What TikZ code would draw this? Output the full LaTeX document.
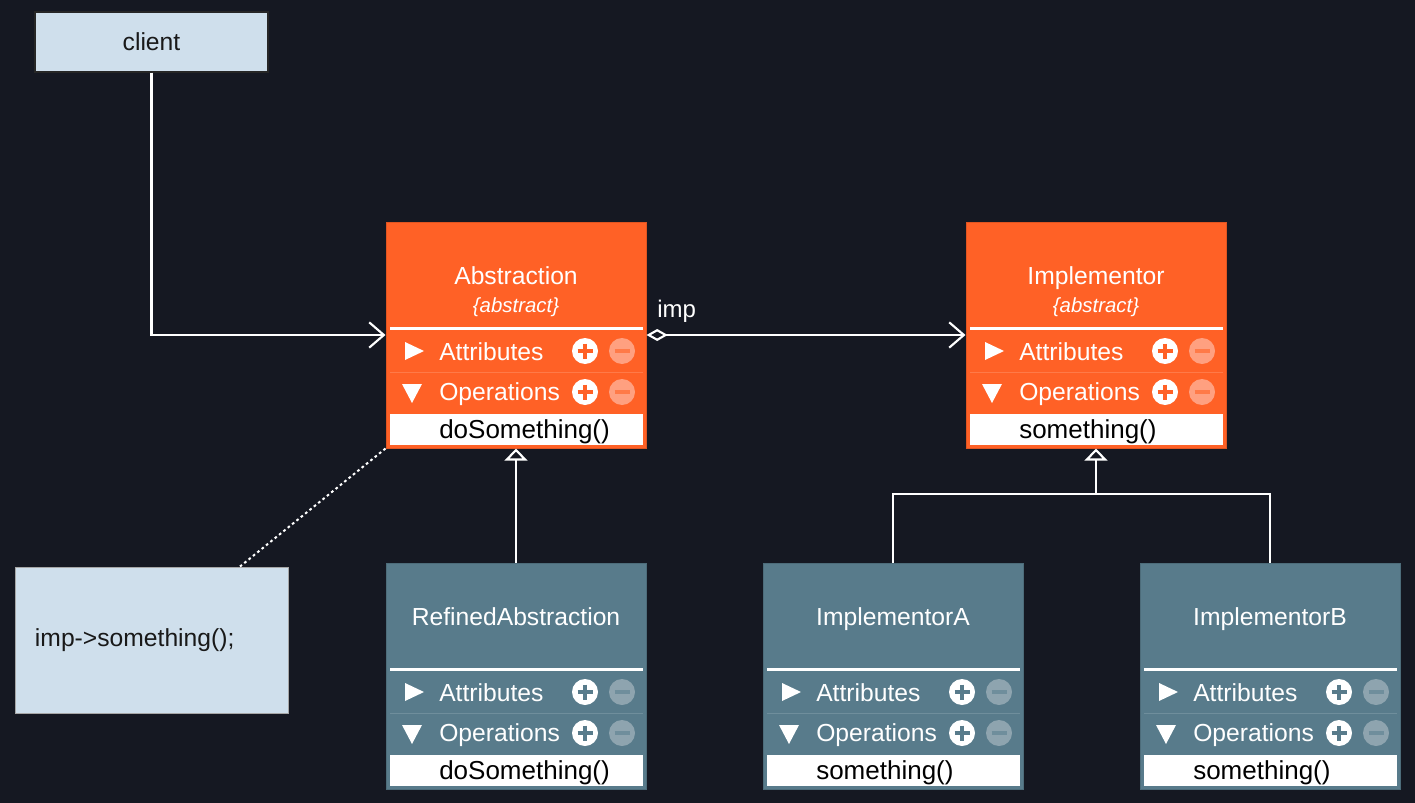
\documentclass[tikz,border=0pt]{standalone}
\usepackage{fontspec}
\setmainfont{Liberation Sans}
\usetikzlibrary{arrows.meta,calc}
\definecolor{bgc}{HTML}{151822}
\definecolor{orng}{HTML}{FF6126}
\definecolor{orngm}{HTML}{FFA080}
\definecolor{orngl}{HTML}{FF7A48}
\definecolor{tealc}{HTML}{587B8B}
\definecolor{tealm}{HTML}{8EA4AF}
\definecolor{teall}{HTML}{6F8E9C}
\definecolor{lblue}{HTML}{CFDFEC}
\tikzset{
  x=0.75pt, y=-0.75pt,
  clsbox/.style={minimum width=195pt, minimum height=169.5pt, inner sep=0pt, line width=0.75pt},
  titletext/.style={anchor=base, inner sep=0pt, text=white, font=\fontsize{18.5pt}{22pt}\selectfont},
  subtext/.style={anchor=base, inner sep=0pt, text=white, font=\fontsize{15.3pt}{18pt}\selectfont\itshape},
  rowtext/.style={anchor=base west, inner sep=0pt, text=white, font=\fontsize{18.5pt}{22pt}\selectfont},
  methtext/.style={anchor=base west, inner sep=0pt, text=black, font=\fontsize{19.5pt}{23pt}\selectfont},
  methbox/.style={fill=white, minimum width=189.75pt, minimum height=23.25pt, inner sep=0pt},
  btn/.style={circle, minimum size=19.5pt, inner sep=0pt},
  lbox/.style={fill=lblue, inner sep=0pt, font=\fontsize{18.5pt}{22pt}\selectfont, text=black!90},
  conn/.style={white, line width=1.6pt},
}
% #1 name #2 x #3 y #4 fill #5 minus fill #6 thin line #7 title #8 subtitle #9 method
\newcommand{\umlcls}[9]{%
  \begin{scope}[shift={(#2,#3)}]
    \node[clsbox, fill=#4, draw=#4!88!black] (#1) at (130,113) {};
    \node[titletext] (#1-t) at (130,62) {#7};
    \node[subtext] (#1-s) at (130,90) {#8};
    \draw[white, line width=2.25pt] (4,106) -- (257,106);
    \draw[#6, line width=0.75pt] (4,150) -- (257,150);
    \fill[white] (19,120) -- (38,129) -- (19,138) -- cycle;
    \fill[white] (16,162) -- (36,162) -- (26,181) -- cycle;
    \node[rowtext] (#1-a) at (53,138) {Attributes};
    \node[rowtext] (#1-o) at (53,178) {Operations};
    \node[btn, fill=white] (#1-ap) at (199,129) {};
    \node[btn, fill=#5] (#1-am) at (236,129) {};
    \node[btn, fill=white] (#1-op) at (199,170) {};
    \node[btn, fill=#5] (#1-om) at (236,170) {};
    \draw[#4, line width=3pt] (191.5,129) -- (206.5,129) (199,121.5) -- (199,136.5)
                               (191.5,170) -- (206.5,170) (199,162.5) -- (199,177.5);
    \draw[#6, line width=3pt] (228.5,129) -- (243.5,129) (228.5,170) -- (243.5,170);
    \node[methbox] (#1-m) at (130.5,207.5) {};
    \node[methtext] (#1-mt) at (53,216) {#9};
  \end{scope}}
\begin{document}
\begin{tikzpicture}
  \fill[bgc] (0,0) rectangle (1415,803);
  \useasboundingbox (0,0) rectangle (1415,803);

  \node[lbox, draw=black!85, line width=1pt, minimum width=174.75pt, minimum height=45pt] (client) at (151.5,42) {client};
  \node[lbox, draw=gray!70, line width=0.75pt, minimum width=204.75pt, minimum height=109.5pt,
        text width=174.75pt, align=left] (note) at (151.5,640) {imp->something();};

  \umlcls{abs}{386}{222}{orng}{orngm}{orngl}{Abstraction}{\{abstract\}}{doSomething()}
  \umlcls{impl}{966}{222}{orng}{orngm}{orngl}{Implementor}{\{abstract\}}{something()}
  \umlcls{ra}{386}{563}{tealc}{tealm}{teall}{RefinedAbstraction}{}{doSomething()}
  \umlcls{ia}{763}{563}{tealc}{tealm}{teall}{ImplementorA}{}{something()}
  \umlcls{ib}{1140}{563}{tealc}{tealm}{teall}{ImplementorB}{}{something()}

  \draw[conn, -{Straight Barb[length=11pt,width=19pt]}] (client.south) |- (abs.west);
  \draw[conn, {Diamond[open,fill=bgc,length=16pt,width=9pt]}-{Straight Barb[length=11pt,width=19pt]}]
    (abs.east) -- (impl.west);
  \node[anchor=base west, inner sep=0pt, text=white, font=\fontsize{18pt}{22pt}\selectfont] (implabel) at (657,317) {imp};

  \draw[conn, -{Triangle[open,fill=bgc,length=9pt,width=17pt]}] (ra.north) -- (abs.south);
  \coordinate (jn) at (1096,494);
  \draw[conn] (ia.north) -- (ia.north |- jn) -- (ib.north |- jn) -- (ib.north);
  \draw[conn, -{Triangle[open,fill=bgc,length=9pt,width=17pt]}] (jn) -- (impl.south);

  \draw[white, line width=1.5pt, dash pattern=on 2pt off 2.2pt] (abs.south west) -- ([xshift=66.4pt]note.north);
\end{tikzpicture}
\end{document}
